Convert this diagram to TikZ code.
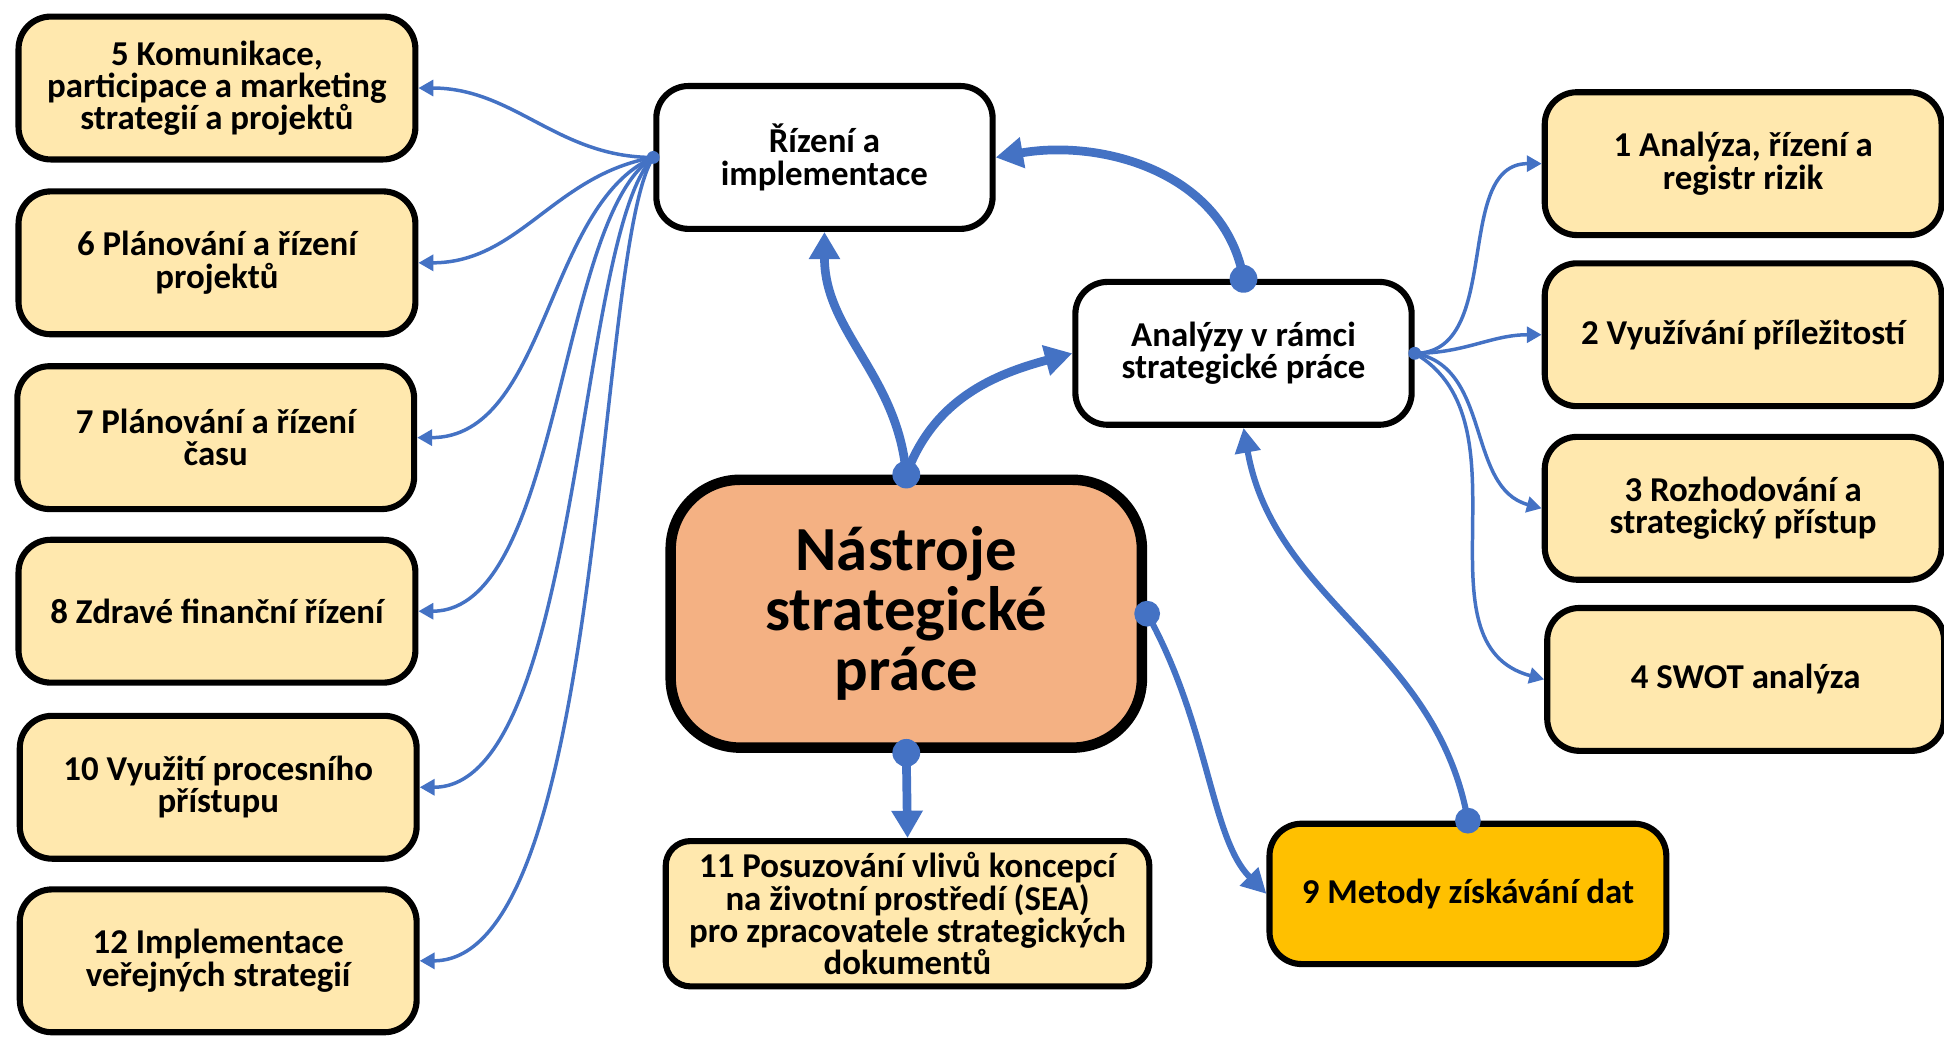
\documentclass[tikz,border=0pt]{standalone}
\usepackage{fontspec}
\setmainfont{Carlito}
\usetikzlibrary{arrows.meta}
\definecolor{tile}{HTML}{FFE8AE}
\definecolor{hub}{HTML}{F4B183}
\definecolor{gold}{HTML}{FFC000}
\definecolor{link}{HTML}{4472C4}
\tikzset{
	tool/.style={draw, line width=3.5pt, rounded corners=0.65cm, fill=tile, align=center,
		inner sep=0pt, minimum width=8cm, minimum height=2.88cm,
		font=\bfseries\fontsize{20}{18.5}\selectfont},
	group/.style={tool, fill=white, minimum width=6.78cm},
	thin/.style={link, line width=2pt, -{Triangle[length=0.3cm,width=0.32cm]}},
	mid/.style={link, line width=3.5pt, -{Triangle[length=0.5cm,width=0.5cm]}},
	thick/.style={link, line width=5pt, -{Triangle[length=0.55cm,width=0.6cm]}},
}

\begin{document}
\begin{tikzpicture}[x=0.025cm, y=0.025cm]
	\useasboundingbox (0,0) rectangle (1568,837);
	% centre and the two groups
	\node [tool, fill=hub, line width=6pt, rounded corners=1.4cm, minimum width=9.5cm, minimum height=5.4cm,
		font=\bfseries\fontsize{36}{34.5}\selectfont] (main) at (731,342) {Nástroje\\strategické\\práce};
	\node [group] (rizeni) at (665,710) {Řízení a\\implementace};
	\node [group] (analyzy) at (1003,552) {Analýzy v rámci\\strategické práce};
	\node [tool, rounded corners=0.5cm, minimum width=9.75cm, minimum height=2.93cm] (t11) at (732,100)
		{11 Posuzování vlivů koncepcí\\na životní prostředí (SEA)\\pro zpracovatele strategických\\dokumentů};
	\node [tool, fill=gold, minimum height=2.83cm] (t9) at (1184,116) {9 Metody získávání dat};
	% left column
	\node [tool] (t5) at (175,766) {5 Komunikace,\\participace a marketing\\strategií a projektů};
	\node [tool] (t6) at (175,625) {6 Plánování a řízení\\projektů};
	\node [tool] (t7) at (174,484) {7 Plánování a řízení\\času};
	\node [tool] (t8) at (175,344) {8 Zdravé finanční řízení};
	\node [tool] (t10) at (176,202) {10 Využití procesního\\přístupu};
	\node [tool] (t12) at (176,62) {12 Implementace\\veřejných strategií};
	% right column
	\node [tool] (t1) at (1406,705) {1 Analýza, řízení a\\registr rizik};
	\node [tool] (t2) at (1406,567) {2 Využívání příležitostí};
	\node [tool] (t3) at (1406,427) {3 Rozhodování a\\strategický přístup};
	\node [tool] (t4) at (1408,289) {4 SWOT analýza};

	\draw [thin] (rizeni.west) to[out=180,in=0] (t5.east);
	\draw [thin] (rizeni.west) to[out=190,in=0] (t6.east);
	\draw [thin] (rizeni.west) .. controls +(-87,-38) and +(105,0) .. (t7.east);
	\draw [thin] (rizeni.west) .. controls +(-77,-48) and +(115,0) .. (t8.east);
	\draw [thin] (rizeni.west) .. controls +(-62,-63) and +(130,0) .. (t10.east);
	\draw [thin] (rizeni.west) .. controls +(-47,-73) and +(150,0) .. (t12.east);
	\fill [link] (rizeni.west) circle (0.13cm);

	\draw [thin] (analyzy.east) to[out=0,in=180] (t1.west);
	\draw [thin] (analyzy.east) to[out=0,in=180] (t2.west);
	\draw [thin] (analyzy.east) to[out=-10,in=165] (t3.west);
	\draw [thin] (analyzy.east) to[out=-30,in=165] (t4.west);
	\fill [link] (analyzy.east) circle (0.13cm);

	\draw [thick] (main.north) to[out=95,in=-90] (rizeni.south);
	\draw [thick] (main.north) to[out=70,in=195] (analyzy.west);
	\draw [thick] (analyzy.north) to[out=100,in=10] (rizeni.east);
	\draw [mid] (main.east) .. controls +(50,-90) and +(-45,45) .. (t9.west);
	\draw [mid] (t9.north) to[out=100,in=-80] (analyzy.south);
	\draw [thick] (main.south) -- (t11.north);
	\fill [link] (main.north) circle (0.28cm);
	\fill [link] (analyzy.north) circle (0.28cm);
	\fill [link] (main.east) circle (0.26cm);
	\fill [link] (t9.north) circle (0.26cm);
	\fill [link] (main.south) circle (0.28cm);
\end{tikzpicture}
\end{document}
